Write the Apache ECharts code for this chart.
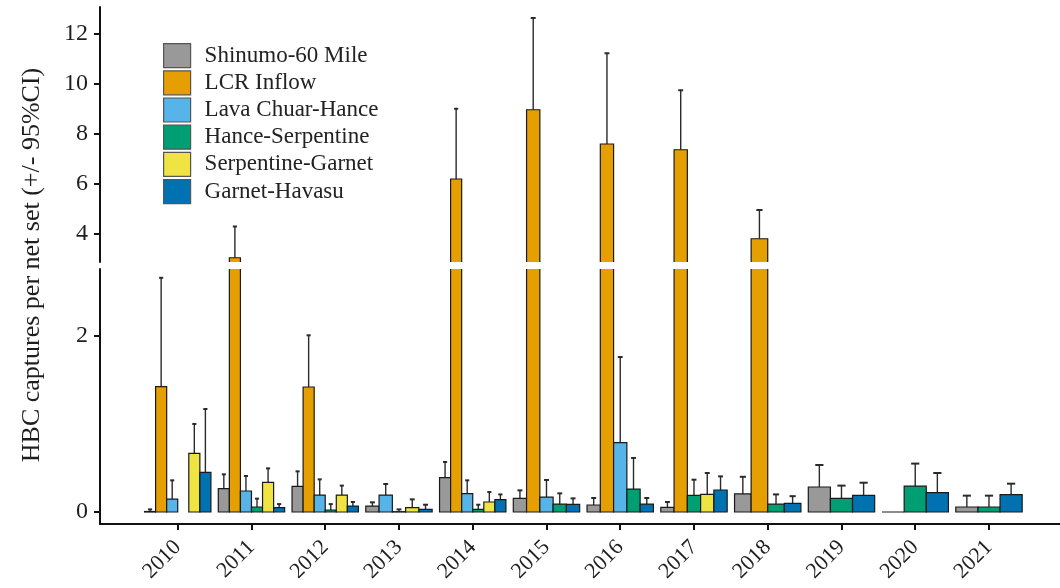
<!DOCTYPE html>
<html>
<head>
<meta charset="utf-8">
<script src="https://cdn.jsdelivr.net/npm/echarts@6/dist/echarts.min.js"></script>
<style>
  html, body { margin: 0; padding: 0; background: #fff; }
  #chart { width: 1060px; height: 588px; }
</style>
</head>
<body>
<div id="chart"></div>
<script>
// Years sampled
const years = ['2010', '2011', '2012', '2013', '2014', '2015', '2016', '2017', '2018', '2019', '2020', '2021'];

// River reaches
const reachNames = ['Shinumo-60 Mile', 'LCR Inflow', 'Lava Chuar-Hance', 'Hance-Serpentine', 'Serpentine-Garnet', 'Garnet-Havasu'];
const reachColors = ['#999999', '#E69F00', '#56B4E9', '#009E73', '#F0E442', '#0072B2'];

// Mean HBC captures per net set and upper 95% CI.
// null = reach not sampled that year (no slot); NaN = sampled, no estimate (slot left empty).
const shinumoMean  = [0.006, 0.265, 0.292, 0.068, 0.39, 0.155, 0.08, 0.053, 0.205, 0.284, 0, 0.057];
const shinumoUpper = [0.03, 0.428, 0.462, 0.11, 0.568, 0.246, 0.159, 0.114, 0.40, 0.534, 0, 0.186];

const lcrMean  = [1.424, 3.05, 1.42, null, 6.2, 8.97, 7.6, 7.37, 3.81, null, null, null];
const lcrUpper = [2.66, 4.3, 2.007, null, 9.01, 12.64, 11.23, 9.75, 4.96, null, null, null];

const lavaMean  = [0.147, 0.239, 0.193, 0.193, 0.208, 0.17, 0.788, null, null, null, null, null];
const lavaUpper = [0.36, 0.409, 0.371, 0.318, 0.36, 0.364, 1.76, null, null, null, null, null];

const hanceMean  = [NaN, 0.057, 0.023, 0.004, 0.03, 0.09, 0.261, 0.19, 0.09, 0.155, 0.295, 0.057];
const hanceUpper = [NaN, 0.152, 0.09, 0.03, 0.083, 0.212, 0.614, 0.367, 0.2, 0.30, 0.55, 0.186];

const serpMean  = [0.667, 0.337, 0.193, 0.049, 0.114, null, null, 0.2, null, null, null, null];
const serpUpper = [1.0, 0.496, 0.30, 0.144, 0.227, null, null, 0.443, null, null, null, null];

const garnetMean  = [0.451, 0.049, 0.068, 0.03, 0.14, 0.087, 0.09, 0.25, 0.098, 0.19, 0.22, 0.197];
const garnetUpper = [1.17, 0.09, 0.114, 0.083, 0.2, 0.155, 0.159, 0.405, 0.18, 0.333, 0.443, 0.322];

// Broken y axis: tick labels for the upper and lower panels
const upperTicks = [4, 6, 8, 10, 12];
const lowerTicks = [0, 2];
const yTitle = 'HBC captures per net set (+/- 95%CI)';

const reaches = [
  { mean: shinumoMean, upper: shinumoUpper },
  { mean: lcrMean, upper: lcrUpper },
  { mean: lavaMean, upper: lavaUpper },
  { mean: hanceMean, upper: hanceUpper },
  { mean: serpMean, upper: serpUpper },
  { mean: garnetMean, upper: garnetUpper }
];

const xPositions = years.map((y, i) => i + 1);
const serifFont = '"Liberation Serif", "DejaVu Serif", serif';

// Dodged bar with an upper error bar; reaches missing from a year give up their slot.
function makeRenderer(gi) {
  return function (params, api) {
    const xi = api.value(0);
    const v = api.value(1);
    const up = api.value(2);
    if (isNaN(v)) return;
    const yi = xi - 1;
    const slots = [];
    reaches.forEach((r, j) => { if (r.mean[yi] !== null) slots.push(j); });
    const k = slots.indexOf(gi);
    const unit = api.size([1, 0])[0];
    const total = unit * 0.9;
    const w = total / slots.length;
    const base = api.coord([xi, 0]);
    const x0 = base[0] - total / 2 + k * w;
    const yTop = api.coord([xi, v])[1];
    const yUp = api.coord([xi, up])[1];
    const cx = x0 + w / 2;
    const cap = w * 0.37;
    const children = [];
    if (up > v) {
      children.push({
        type: 'line',
        shape: { x1: cx, y1: yTop, x2: cx, y2: yUp },
        style: { stroke: '#2a2a2a', lineWidth: 1.4 }
      });
      children.push({
        type: 'line',
        shape: { x1: cx - cap / 2, y1: yUp, x2: cx + cap / 2, y2: yUp },
        style: { stroke: '#2a2a2a', lineWidth: 2 }
      });
    }
    children.push({
      type: 'rect',
      shape: { x: x0, y: yTop, width: w, height: base[1] - yTop },
      style: { fill: reachColors[gi], stroke: '#1a1a1a', lineWidth: 1.2 }
    });
    return { type: 'group', children: children };
  };
}

function seriesFor(gridIndex) {
  return reaches.map((r, gi) => ({
    type: 'custom',
    name: reachNames[gi],
    xAxisIndex: gridIndex,
    yAxisIndex: gridIndex,
    clip: true,
    itemStyle: { color: reachColors[gi] },
    renderItem: makeRenderer(gi),
    data: years.map((y, i) => r.mean[i] !== null ? [i + 1, r.mean[i], r.upper[i]] : null)
               .filter(d => d !== null)
  }));
}

const axisLineStyle = { color: '#111', width: 2 };
const tickStyle = { color: '#111', width: 2 };
const labelText = { fontFamily: serifFont, color: '#1e1e1e' };

const chart = echarts.init(document.getElementById('chart'), null, { renderer: 'canvas' });
chart.setOption({
  animation: false,
  color: reachColors,
  grid: [
    { left: 100, right: 0, top: 7, height: 255 },
    { left: 100, right: 0, top: 269, height: 255 }
  ],
  xAxis: [
    { type: 'value', gridIndex: 0, min: -0.054, max: 12.963, show: false },
    {
      type: 'value', gridIndex: 1, min: -0.054, max: 12.963,
      axisLine: { show: true, onZero: false, lineStyle: axisLineStyle },
      axisTick: { show: true, length: 6, customValues: xPositions, lineStyle: tickStyle },
      axisLabel: Object.assign({
        customValues: xPositions,
        formatter: v => years[Math.round(v) - 1],
        rotate: 45, fontSize: 22, margin: 20,
        padding: [24, 0, 0, 0]
      }, labelText),
      splitLine: { show: false }
    }
  ],
  yAxis: [
    {
      type: 'value', gridIndex: 0, min: 2.88, max: 13.08,
      axisLine: { show: true, onZero: false, lineStyle: axisLineStyle },
      axisTick: { show: true, length: 6, customValues: upperTicks, lineStyle: tickStyle },
      axisLabel: Object.assign({ customValues: upperTicks, fontSize: 24, margin: 12 }, labelText),
      splitLine: { show: false }
    },
    {
      type: 'value', gridIndex: 1, min: -0.136, max: 2.76,
      axisLine: { show: true, onZero: false, lineStyle: axisLineStyle },
      axisTick: { show: true, length: 6, customValues: lowerTicks, lineStyle: tickStyle },
      axisLabel: Object.assign({ customValues: lowerTicks, fontSize: 24, margin: 12 }, labelText),
      splitLine: { show: false }
    }
  ],
  legend: {
    data: reachNames,
    orient: 'vertical',
    left: 163,
    top: 43,
    padding: 0,
    icon: 'rect',
    itemWidth: 27,
    itemHeight: 24,
    itemGap: 2,
    selectedMode: false,
    itemStyle: { borderColor: '#555', borderWidth: 1.2 },
    textStyle: { fontFamily: serifFont, fontSize: 23, color: '#222', padding: [0, 0, 0, 9] }
  },
  graphic: [{
    type: 'text',
    x: 32,
    y: 265,
    rotation: Math.PI / 2,
    style: {
      text: yTitle,
      font: '26px ' + serifFont,
      fill: '#1e1e1e',
      textAlign: 'center',
      textVerticalAlign: 'middle'
    }
  }],
  series: seriesFor(0).concat(seriesFor(1))
});
</script>
</body>
</html>
